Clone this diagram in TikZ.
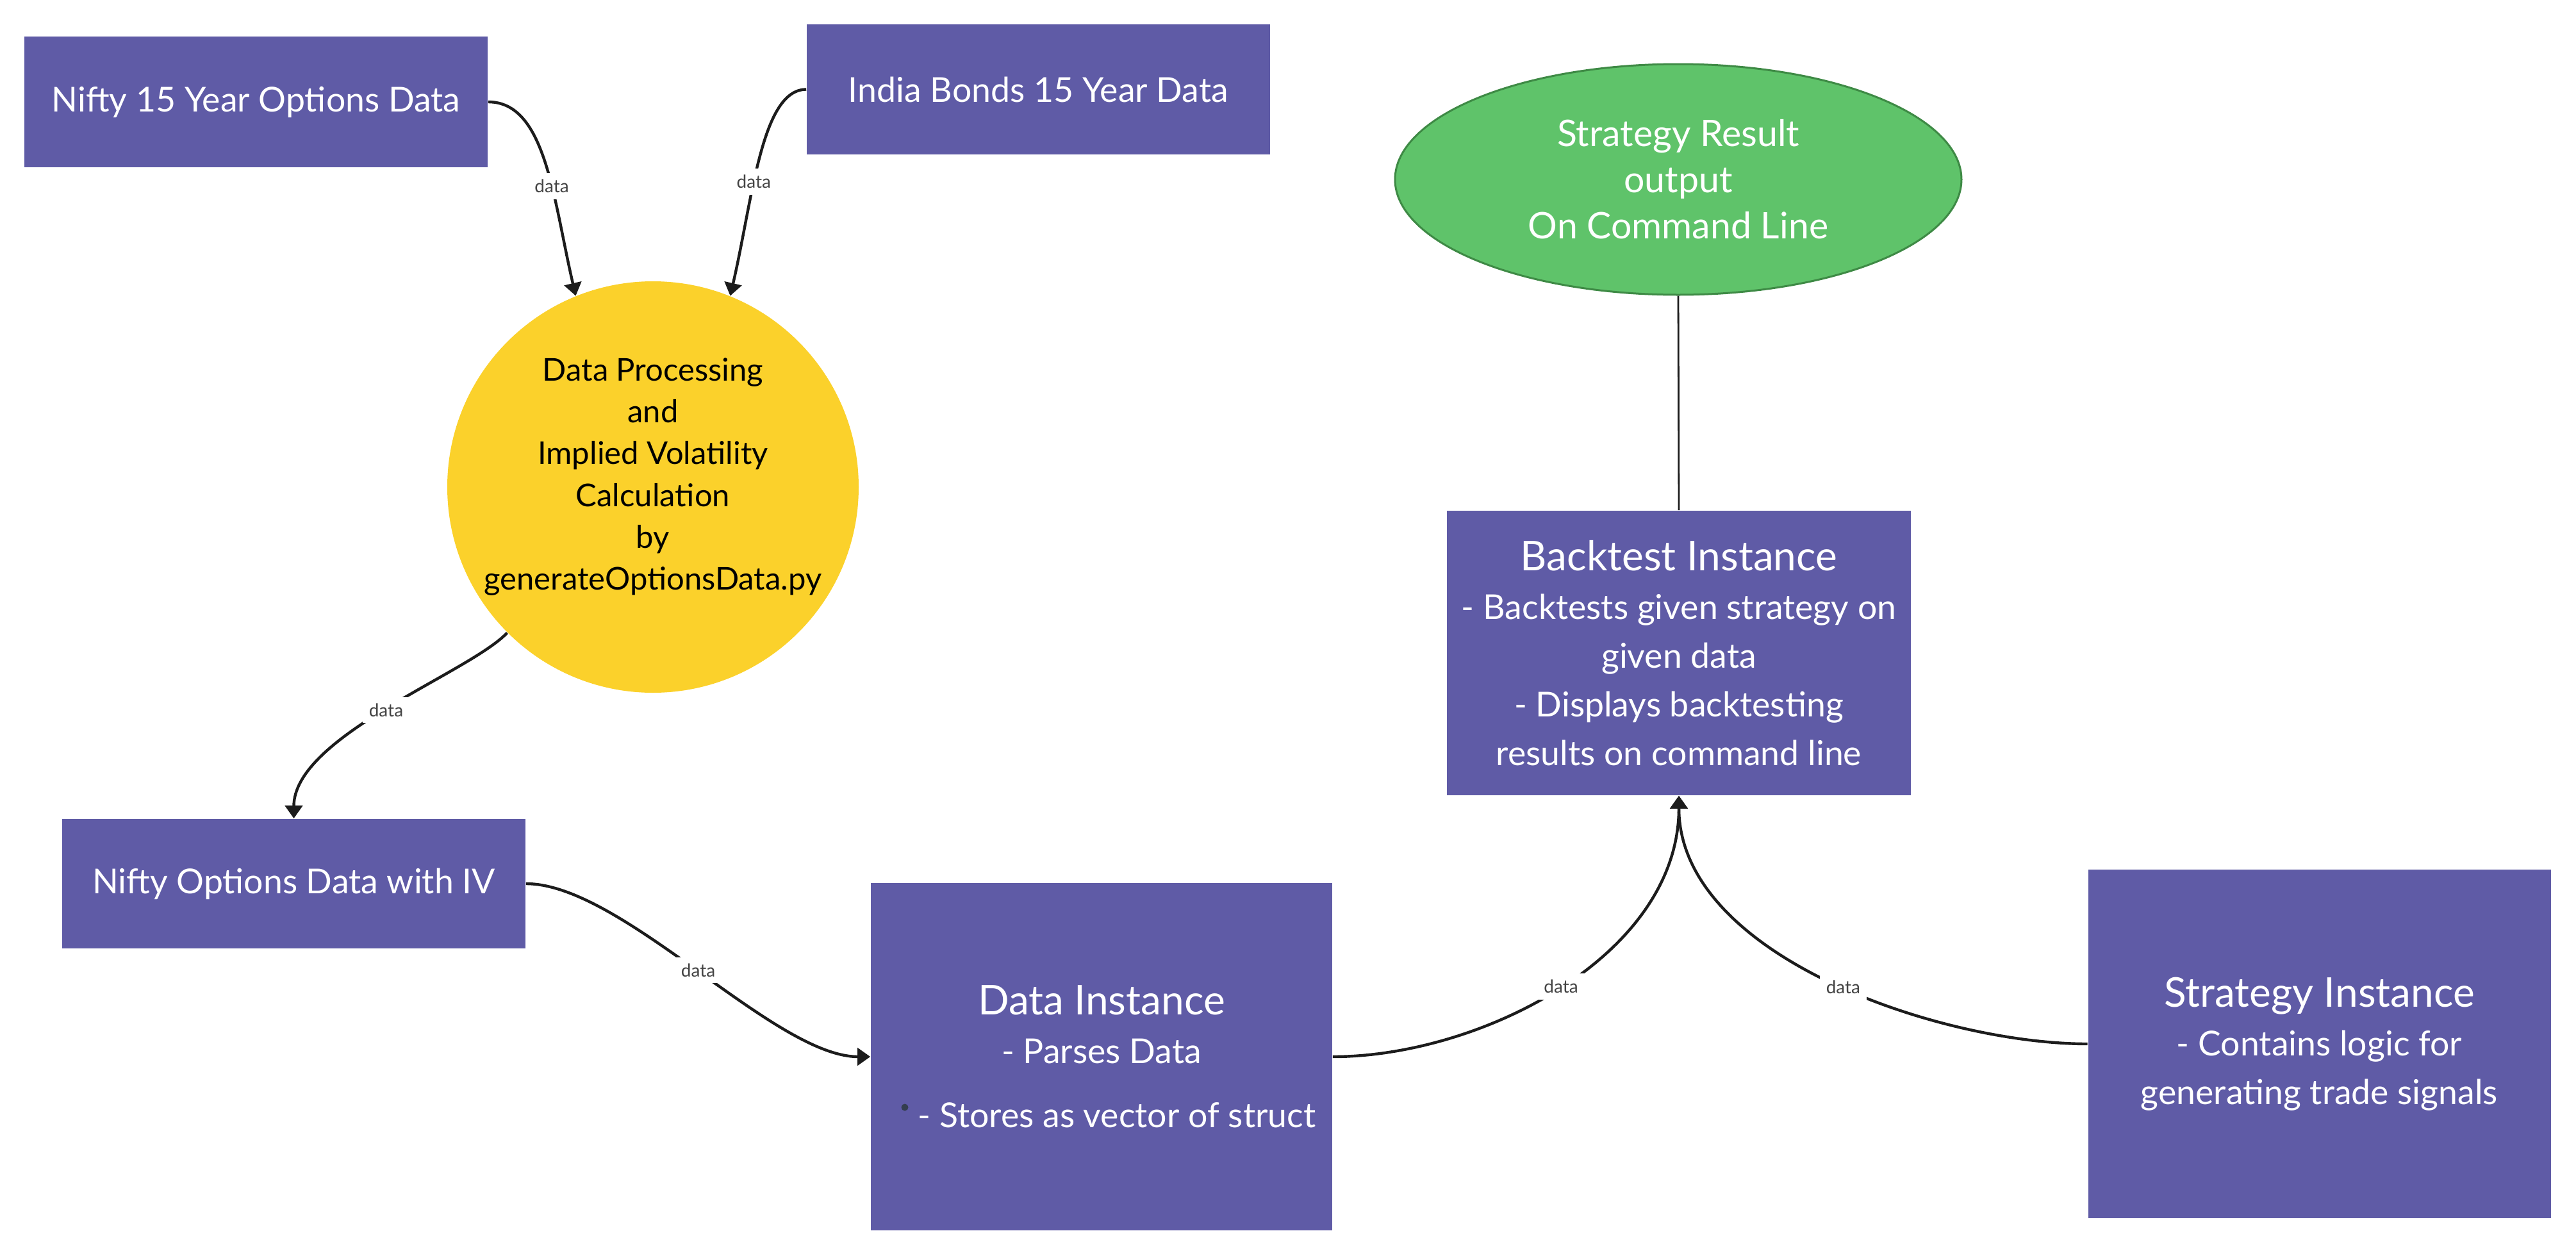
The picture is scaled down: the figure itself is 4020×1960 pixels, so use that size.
\documentclass[tikz,border=0pt]{standalone}
\usepackage{fontspec}
\setmainfont{Lato}
\usetikzlibrary{shapes.geometric,arrows.meta}
\definecolor{boxpurple}{HTML}{5F5BA6}
\definecolor{sunyellow}{HTML}{FBD12B}
\definecolor{leafgreen}{HTML}{5FC36A}
\definecolor{leafborder}{HTML}{3E8A45}
\definecolor{edgeink}{HTML}{1C1C1C}
\definecolor{labelink}{HTML}{444444}
\definecolor{dotink}{HTML}{343E4F}
\newcommand{\boxtitle}[1]{{\fontsize{16}{19}\selectfont #1}}
\begin{document}
\begin{tikzpicture}[x=0.25pt,y=-0.25pt,
  box/.style={fill=boxpurple,text=white,align=center,inner sep=0pt,
    font=\fontsize{13.4}{19}\selectfont},
  conn/.style={draw=edgeink,line width=1.1pt,-{Triangle[length=5pt,width=6.75pt]}},
  lbl/.style={fill=white,text=labelink,inner sep=2.5pt,font=\fontsize{7}{8}\selectfont},
]
\fill[white] (0,0) rectangle (4020,1960);
\useasboundingbox (0,0) rectangle (4020,1960);

\node[box,minimum width=180.75pt,minimum height=51pt] (nifty15) at (399.5,159) {Nifty 15 Year Options Data};
\node[box,minimum width=180.75pt,minimum height=50.75pt] (bonds) at (1620.5,139.5) {India Bonds 15 Year Data};
\node[circle,fill=sunyellow,inner sep=0pt,minimum size=160.5pt] (proc) at (1019,760) {};
\node[text=black,align=center,inner sep=0pt,font=\fontsize{12.25}{16.3}\selectfont] (proctext) at (1019,744)
  {Data Processing\\and\\Implied Volatility\\Calculation\\by\\generateOptionsData.py};
\node[ellipse,fill=leafgreen,draw=leafborder,line width=0.75pt,text=white,align=center,inner sep=0pt,
  minimum width=221pt,minimum height=90pt,font=\fontsize{14.3}{18}\selectfont] (result) at (2619,280)
  {Strategy Result\\output\\On Command Line};
\node[box,minimum width=181pt,minimum height=111pt] (backtest) at (2620,1019)
  {\boxtitle{Backtest Instance}\\- Backtests given strategy on\\given data\\- Displays backtesting\\results on command line};
\node[box,minimum width=180.75pt,minimum height=50.5pt] (niftyiv) at (458.5,1379) {Nifty Options Data with IV};
\node[box,minimum width=180pt,minimum height=135.5pt] (datainst) at (1719,1649)
  {\boxtitle{Data Instance}\\- Parses Data\\[6pt]\hspace*{12pt}- Stores as vector of struct};
\node[circle,fill=dotink,inner sep=0pt,minimum size=2.75pt] (bulletdot) at (1412,1728) {};
\node[box,minimum width=180.5pt,minimum height=136pt] (strategy) at (3619.5,1629)
  {\boxtitle{Strategy Instance}\\- Contains logic for\\generating trade signals};

\draw[conn] (nifty15.east) .. controls +(90,0) and +(-35,-150) .. (proc.112) node[lbl,pos=0.6]{data};
\draw[conn] (bonds.west) .. controls +(-70,0) and +(35,-150) .. (proc.68) node[lbl,pos=0.6]{data};
\draw[conn] (proc.225) .. controls +(-60,63) and +(0,-128) .. (niftyiv.north) node[lbl,pos=0.5]{data};
\draw[conn] (niftyiv.east) .. controls +(150,0) and +(-150,0) .. (datainst.west) node[lbl,pos=0.5]{data};
\draw[conn] (datainst.east) .. controls +(230,0) and +(0,250) .. (backtest.south) node[lbl,pos=0.5]{data};
\draw[conn] (strategy.west) .. controls +(-230,0) and +(0,250) .. (backtest.south) node[lbl,pos=0.47]{data};
\draw[draw=edgeink,line width=0.7pt] (result.south) -- (backtest.north);
\end{tikzpicture}
\end{document}
